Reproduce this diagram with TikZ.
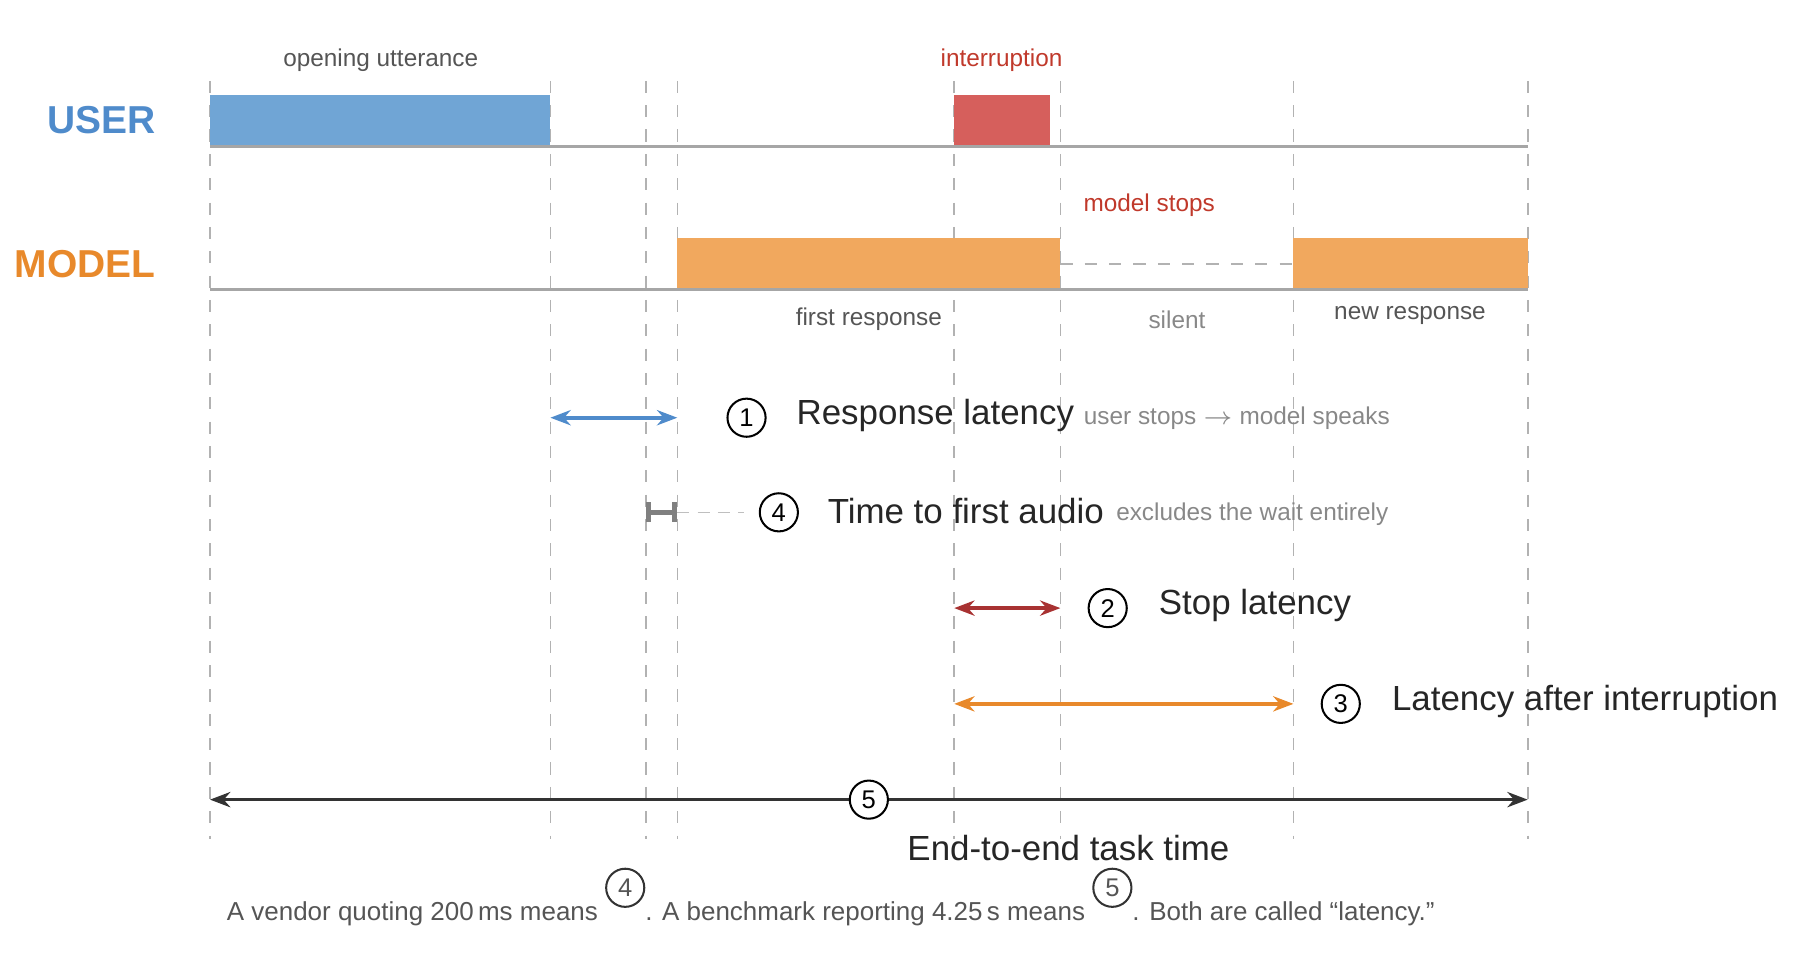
\documentclass[tikz,border=0pt]{standalone}
\usepackage{fontspec}
\setmainfont{Liberation Sans}
\usepackage{tikz}
\usetikzlibrary{arrows.meta}
\definecolor{userblue}{HTML}{70A5D5}
\definecolor{userdark}{HTML}{4F8BCB}
\definecolor{redbar}{HTML}{D65F5C}
\definecolor{redtxt}{HTML}{C0392B}
\definecolor{orangebar}{HTML}{F1A85E}
\definecolor{orangedark}{HTML}{E8892B}
\definecolor{darkred}{HTML}{A83232}
\definecolor{txtgray}{HTML}{555555}
\definecolor{lightgray}{HTML}{888888}
\tikzset{
  small/.style={font=\fontsize{6}{7}\selectfont},
  big/.style={font=\fontsize{8.6}{10}\selectfont, text=black!85},
  num/.style={circle, draw, line width=0.5pt, inner sep=0pt, minimum size=9.4pt, font=\fontsize{6.3}{7}\selectfont},
  span/.style={{Stealth[length=5pt]}-{Stealth[length=5pt]}, line width=0.9pt}
}
\begin{document}
\begin{tikzpicture}[x=0.01cm, y=-0.01cm]
\useasboundingbox (0,0) rectangle (1560,829);
% time marks
\foreach \tx in {182,477,560,587,827,919,1121,1324}
  \draw [gray!60, dashed, line width=0.4pt] (\tx,70) -- (\tx,727);
% user track
\fill [userblue] (182,82) rectangle (477,127);
\fill [redbar] (827,82) rectangle (910,127);
\draw [gray!70, line width=0.6pt] (182,127) -- (1324,127);
\node [anchor=east, text=userdark, font=\fontsize{9.6}{11}\selectfont\bfseries] (user) at (147,104) {USER};
\node [small, text=txtgray] (open) at (330,52) {opening utterance};
\node [small, text=redtxt] (intr) at (868,52) {interruption};
% model track
\fill [orangebar] (587,206) rectangle (919,251);
\fill [orangebar] (1121,206) rectangle (1324,251);
\draw [gray!60, dashed, line width=0.4pt] (919,229) -- (1121,229);
\draw [gray!70, line width=0.6pt] (182,251) -- (1324,251);
\node [anchor=east, text=orangedark, font=\fontsize{9.6}{11}\selectfont\bfseries] (model) at (147,229) {MODEL};
\node [small, text=redtxt] (stops) at (996,178) {model stops};
\node [small, text=txtgray] (first) at (753,277) {first response};
\node [small, text=lightgray] (silent) at (1020,277) {silent};
\node [small, text=txtgray] (newr) at (1222,273) {new response};
% measures
\coordinate (a1) at (477,362); \coordinate (b1) at (587,362);
\draw [span, userdark] (a1) -- (b1);
\node [num] (n1) at (647,362) {1};
\node [big, anchor=west] (t1) at (678,360) {Response latency};
\node [small, text=lightgray, anchor=west] (s1) at (927,362) {user stops $\rightarrow$ model speaks};
\coordinate (a4) at (560,444); \coordinate (b4) at (587,444); \coordinate (c4) at (645,444);
\draw [{Bar[width=5pt]}-{Bar[width=5pt]}, gray, line width=1.2pt] (a4) -- (b4);
\draw [gray!50, densely dashed, line width=0.4pt] (b4) -- (c4);
\node [num] (n4) at (675,444) {4};
\node [big, anchor=west] (t4) at (705,443) {Time to first audio};
\node [small, text=lightgray, anchor=west] (s4) at (955,446) {excludes the wait entirely};
\coordinate (a2) at (827,527); \coordinate (b2) at (919,527);
\draw [span, darkred] (a2) -- (b2);
\node [num] (n2) at (960,527) {2};
\node [big, anchor=west] (t2) at (992,525) {Stop latency};
\coordinate (a3) at (827,610); \coordinate (b3) at (1121,610);
\draw [span, orangedark] (a3) -- (b3);
\node [num] (n3) at (1162,610) {3};
\node [big, anchor=west] (t3) at (1194,608) {Latency after interruption};
\coordinate (a5) at (182,693); \coordinate (b5) at (1324,693);
\draw [span, black!80] (a5) -- (b5);
\node [num, fill=white] (n5) at (753,693) {5};
\node [big] (t5) at (926,735) {End-to-end task time};
% footnote
\node [font=\fontsize{6.4}{8}\selectfont, text=txtgray] (foot) at (720,777) {A vendor quoting 200\,ms means \raisebox{3pt}{\tikz\node[num, text=txtgray, draw=black!80]{4};}. A benchmark reporting 4.25\,s means \raisebox{3pt}{\tikz\node[num, text=txtgray, draw=black!80]{5};}. Both are called “latency.”};
\end{tikzpicture}
\end{document}
